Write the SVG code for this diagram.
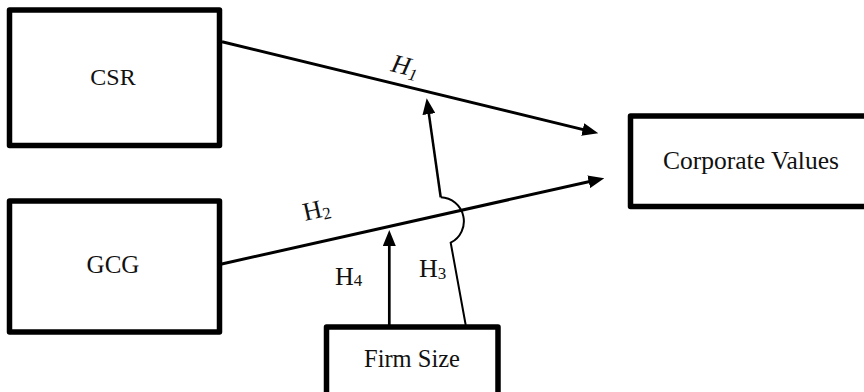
<svg xmlns="http://www.w3.org/2000/svg" width="864" height="392" viewBox="0 0 864 392">
  <style>
    .box { fill: #fff; stroke: #000; stroke-width: 5.5; stroke-linejoin: round; }
    .lbl { font-family: "Liberation Serif", "Times New Roman", serif; font-size: 24px; fill: #111; text-anchor: middle; }
    .h { font-family: "Liberation Serif", "Times New Roman", serif; font-size: 26px; fill: #111; }
    .sub { font-size: 17px; }
    .conn { fill: none; stroke: #000; }
  </style>
  <defs>
    <marker id="arr" viewBox="0 0 16 13" refX="8" refY="6.5" markerWidth="16" markerHeight="13" markerUnits="userSpaceOnUse" orient="auto">
      <path d="M0,0 L16,6.5 L0,13 z" fill="#000"/>
    </marker>
  </defs>
  <rect width="864" height="392" fill="#fff"/>

  <g id="connectors">
    <path class="conn" stroke-width="3" d="M222 41.7 L590.5 131.4" marker-end="url(#arr)"/>
    <path class="conn" stroke-width="3" d="M221.7 264 L596.5 180" marker-end="url(#arr)"/>
    <path class="conn" stroke-width="2.7" d="M389.3 325 L389.3 238" marker-end="url(#arr)"/>
    <path class="conn" stroke-width="2" d="M465.7 325 L450.7 242.7 A24 24 0 0 0 440.7 197.3"/>
    <path class="conn" stroke-width="2.5" d="M440.7 197.3 L427.8 106.2" marker-end="url(#arr)"/>
  </g>

  <g id="labels">
    <text class="h" font-style="italic" transform="rotate(13.7 390 71)" x="390" y="71">H<tspan class="sub" dy="4">1</tspan></text>
    <text class="h" transform="rotate(-12.8 305 221)" x="305" y="221">H<tspan class="sub" dy="3">2</tspan></text>
    <text class="h" x="335" y="285">H<tspan class="sub" dy="1">4</tspan></text>
    <text class="h" x="419" y="277">H<tspan class="sub" dy="2">3</tspan></text>
  </g>

  <g id="csr">
    <rect class="box" x="9.5" y="10" width="210" height="135.5"/>
    <text class="lbl" x="113" y="85">CSR</text>
  </g>
  <g id="gcg">
    <rect class="box" x="9.5" y="201" width="210" height="131"/>
    <text class="lbl" x="113" y="273" style="font-size:25px">GCG</text>
  </g>
  <g id="corporate-values">
    <rect class="box" x="630.5" y="116" width="250" height="90.5"/>
    <text class="lbl" x="751" y="168.5" style="font-size:25.5px">Corporate Values</text>
  </g>
  <g id="firm-size">
    <rect class="box" x="326.5" y="327" width="171.5" height="80"/>
    <text class="lbl" x="412" y="366.5" style="font-size:24.5px">Firm Size</text>
  </g>
</svg>
